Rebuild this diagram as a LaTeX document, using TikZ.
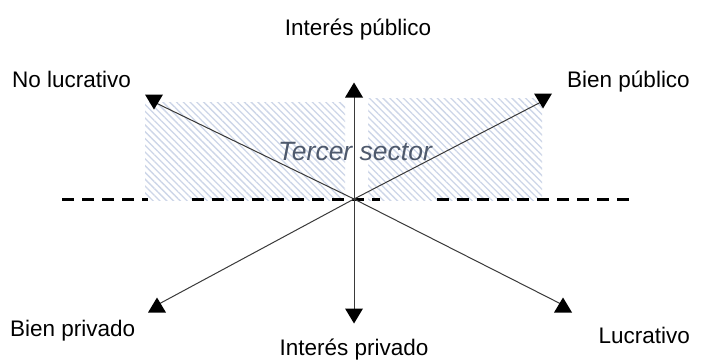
\documentclass[tikz,border=0pt]{standalone}
\usepackage{fontspec}
\setmainfont{Liberation Sans}
\usetikzlibrary{calc,patterns.meta}
\definecolor{hatchc}{HTML}{CDD6E8}
\definecolor{sectc}{HTML}{4E596C}
\definecolor{linec}{HTML}{3A3A3A}
\newcommand\tridown[1]{\fill[black] ($(#1)+(-9,-7.5)$) -- ($(#1)+(9,-7.5)$) -- ($(#1)+(0,7.5)$) -- cycle;}
\newcommand\triup[1]{\fill[black] ($(#1)+(-9,7.5)$) -- ($(#1)+(9,7.5)$) -- ($(#1)+(0,-7.5)$) -- cycle;}
\tikzset{
  lab/.style={inner sep=0pt,font=\fontsize{22.5bp}{25bp}\selectfont},
  hatch/.style={draw=none,pattern={Lines[angle=-45,distance=4.8bp,line width=1.3bp]},pattern color=hatchc},
  axis/.style={draw=linec,line width=1bp},
  dashline/.style={draw=black,line width=3bp,dash pattern=on 12bp off 8bp}
}
\begin{document}
\begin{tikzpicture}[x=1bp,y=-1bp]
\useasboundingbox (0,0) rectangle (704,360);
\fill[white] (0,0) rectangle (704,360);
% hatched areas
\path[hatch] (145,102) rectangle (345,200);
\path[hatch] (368,98) rectangle (542,200);
% dashed horizontal line
\coordinate (d1) at (62,199);
\coordinate (d2) at (148,199);
\coordinate (d3) at (192,199);
\coordinate (d4) at (380,199);
\coordinate (d5) at (437,199);
\coordinate (d6) at (636,199);
\draw[dashline] (d1) -- (d2);
\draw[dashline] (d3) -- (d4);
\draw[dashline] (d5) -- (d6);
% centre and arrow ends
\coordinate (c) at (354,199);
\coordinate (nl) at (154,102);
\coordinate (ip) at (354,90);
\coordinate (bp) at (543,101);
\coordinate (bpr) at (157,305);
\coordinate (ipr) at (354,316);
\coordinate (lu) at (563,305);
\draw[axis] (c) -- (nl);
\draw[axis] (c) -- (ip);
\draw[axis] (c) -- (bp);
\draw[axis] (c) -- (bpr);
\draw[axis] (c) -- (ipr);
\draw[axis] (c) -- (lu);
\tridown{nl}
\triup{ip}
\tridown{bp}
\triup{bpr}
\tridown{ipr}
\triup{lu}
% labels
\node[lab,anchor=base] (tip) at (358,35) {Interés público};
\node[lab,anchor=base west] (tnl) at (12,87) {No lucrativo};
\node[lab,anchor=base east] (tbp) at (690,87) {Bien público};
\node[lab,anchor=base west] (tbpr) at (10,336) {Bien privado};
\node[lab,anchor=base] (tipr) at (354,355) {Interés privado};
\node[lab,anchor=base east] (tlu) at (690,343) {Lucrativo};
\node[anchor=base,inner sep=0pt,text=sectc,font=\fontsize{26.5bp}{28bp}\selectfont\itshape] (ts) at (355,160) {Tercer sector};
\end{tikzpicture}
\end{document}
